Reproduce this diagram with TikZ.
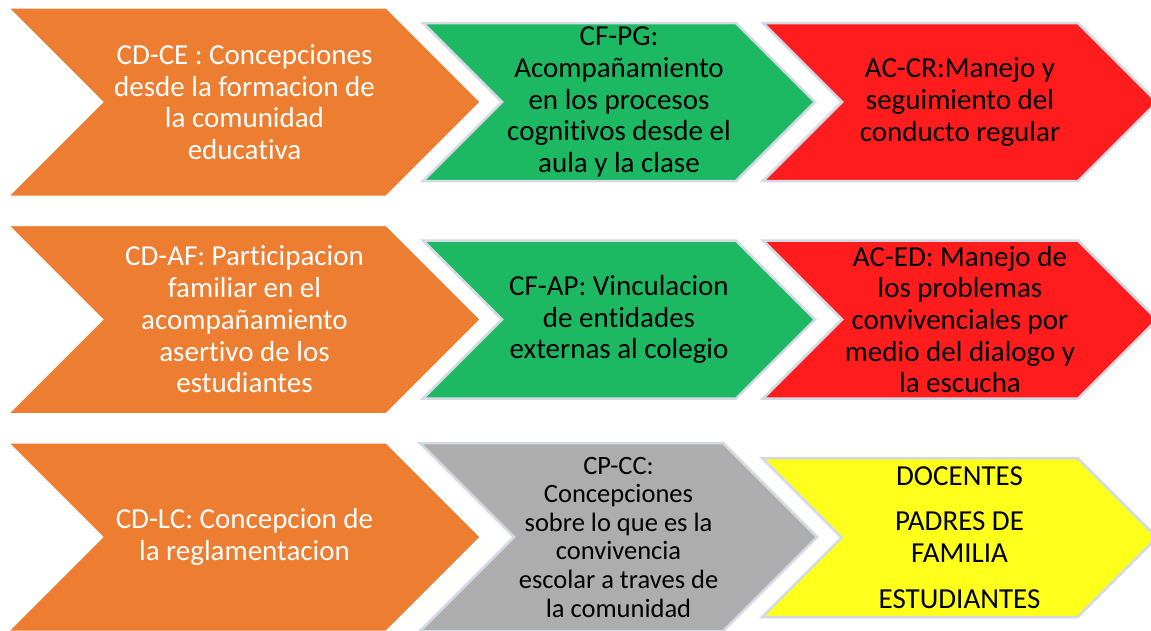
\documentclass[tikz,border=0pt]{standalone}
\usepackage{fontspec}
\setmainfont{Carlito}[Ligatures=NoCommon]
\definecolor{corange}{HTML}{ED7D31}
\definecolor{cgreen}{HTML}{1DB862}
\definecolor{cred}{HTML}{FE1C1C}
\definecolor{cgray}{HTML}{ADADAD}
\definecolor{cyellow}{HTML}{FFFF1C}
\definecolor{cedge}{HTML}{D3DAE4}
\tikzset{
  orangebox/.style={fill=corange, draw=white, line width=1pt},
  greenbox/.style={fill=cgreen, draw=cedge, line width=2.5pt},
  redbox/.style={fill=cred, draw=cedge, line width=2.5pt},
  graybox/.style={fill=cgray, draw=cedge, line width=2.5pt},
  yellowbox/.style={fill=cyellow, draw=cedge, line width=2.5pt},
  lbl/.style={inner sep=0pt, align=center, font=\fontsize{29}{31.7}\selectfont},
  wlbl/.style={lbl, text=white},
  blbl/.style={lbl, text=black},
}
% #1 name, #2 left x, #3 center y, #4 half height, #5 total width, #6 shape style, #7 label style, #8 text
\newcommand\mychev[8]{%
  \path[#6] (#2,#3-#4) -- (#2+#5-#4,#3-#4) -- (#2+#5,#3) -- (#2+#5-#4,#3+#4)
     -- (#2,#3+#4) -- (#2+#4,#3) -- cycle;
  \node[#7] (#1) at (#2+#5/2,#3) {#8};
}
\begin{document}
\begin{tikzpicture}[x=1pt,y=-1pt]
\useasboundingbox (0,0) rectangle (1151,630);
% row 1
\mychev{cdce}{9}{102}{94}{471}{orangebox}{wlbl}{CD-CE : Concepciones\\desde la formacion de\\la comunidad\\educativa}
\mychev{cfpg}{423}{102}{79}{392}{greenbox}{blbl}{CF-PG:\\Acompañamiento\\en los procesos\\cognitivos desde el\\aula y la clase}
\mychev{accr}{763}{102}{79}{394}{redbox}{blbl}{AC-CR:Manejo y\\seguimiento del\\conducto regular}
% row 2
\mychev{cdaf}{9}{319.5}{94}{471}{orangebox}{wlbl}{CD-AF: Participacion\\familiar en el\\acompañamiento\\asertivo de los\\estudiantes}
\mychev{cfap}{423}{319.5}{79}{392}{greenbox}{blbl}{CF-AP: Vinculacion\\de entidades\\externas al colegio}
\mychev{aced}{763}{319.5}{79}{394}{redbox}{blbl}{AC-ED: Manejo de\\los problemas\\convivenciales por\\medio del dialogo y\\la escucha}
% row 3
\mychev{cdlc}{9}{537}{94}{471}{orangebox}{wlbl}{CD-LC: Concepcion de\\la reglamentacion}
\mychev{cpcc}{420}{537}{94}{397}{graybox}{blbl,font=\fontsize{26.5}{28.6}\selectfont}{CP-CC:\\Concepciones\\sobre lo que es la\\convivencia\\escolar a traves de\\la comunidad}
\mychev{actores}{762}{537.5}{79.5}{395}{yellowbox}{blbl}{DOCENTES\\[14pt]PADRES DE\\FAMILIA\\[14pt]ESTUDIANTES}
\end{tikzpicture}
\end{document}
